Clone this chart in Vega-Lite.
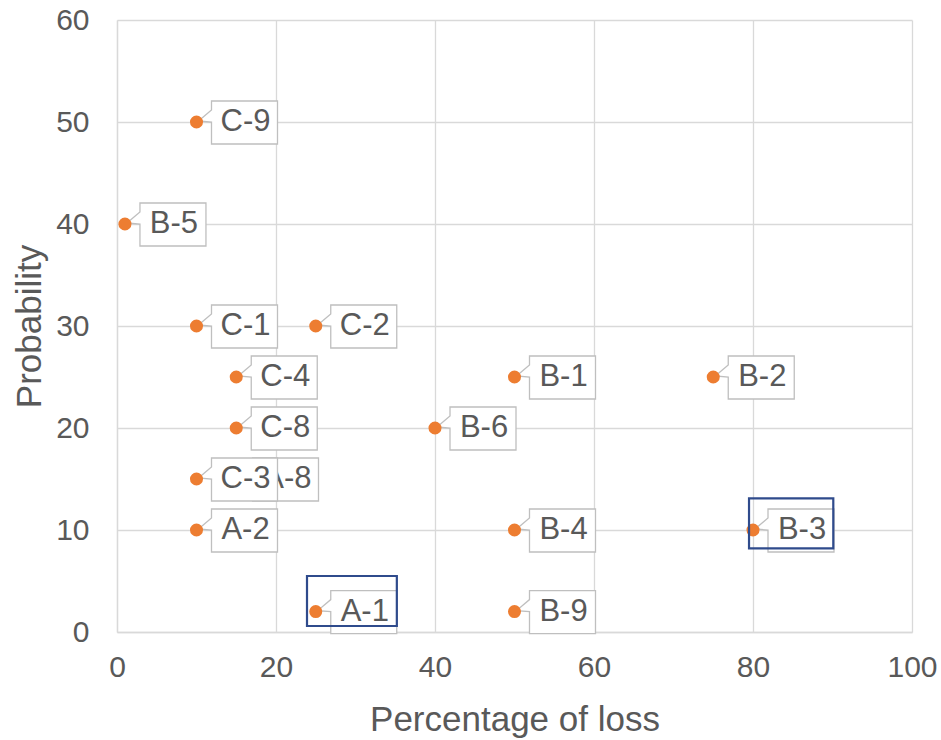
{
  "$schema": "https://vega.github.io/schema/vega-lite/v6.json",
  "width": 795,
  "height": 612,
  "autosize": {"type": "none"},
  "padding": {"left": 117, "top": 20, "right": 29, "bottom": 108},
  "background": "white",
  "config": {
    "font": "Liberation Sans",
    "view": {"stroke": null},
    "axis": {
      "gridColor": "#d9d9d9",
      "gridWidth": 1.3,
      "domainColor": "#d9d9d9",
      "domainWidth": 1.3,
      "ticks": false,
      "labelColor": "#595959",
      "labelFontSize": 30,
      "labelFlush": false,
      "labelOverlap": false,
      "titleColor": "#595959",
      "titleFontSize": 35,
      "titleFontWeight": "normal",
      "labelFont": "Liberation Sans",
      "titleFont": "Liberation Sans"
    }
  },
  "datasets": {
    "points": [
      {"name": "C-9", "loss": 10, "prob": 50},
      {"name": "B-5", "loss": 1, "prob": 40},
      {"name": "C-1", "loss": 10, "prob": 30},
      {"name": "C-2", "loss": 25, "prob": 30},
      {"name": "C-4", "loss": 15, "prob": 25},
      {"name": "B-1", "loss": 50, "prob": 25},
      {"name": "B-2", "loss": 75, "prob": 25},
      {"name": "C-8", "loss": 15, "prob": 20},
      {"name": "B-6", "loss": 40, "prob": 20},
      {"name": "C-3", "loss": 10, "prob": 15},
      {"name": "A-2", "loss": 10, "prob": 10},
      {"name": "B-4", "loss": 50, "prob": 10},
      {"name": "B-3", "loss": 80, "prob": 10},
      {"name": "A-1", "loss": 25, "prob": 2},
      {"name": "B-9", "loss": 50, "prob": 2}
    ],
    "hidden": [
      {"name": "A-8", "loss": 10, "prob": 15}
    ],
    "highlights": [
      {"x1": 23.9, "x2": 35.2, "y1": 0.59, "y2": 5.49},
      {"x1": 79.5, "x2": 90.1, "y1": 8.2, "y2": 13.1}
    ]
  },
  "layer": [
    {
      "data": {"name": "points"},
      "mark": {"type": "point", "opacity": 0, "size": 1},
      "encoding": {
        "x": {"field": "loss", "type": "quantitative",
              "scale": {"domain": [0, 100], "nice": false},
              "axis": {"values": [0, 20, 40, 60, 80, 100], "title": "Percentage of loss", "labelPadding": 20, "titlePadding": 20, "grid": true}},
        "y": {"field": "prob", "type": "quantitative",
              "scale": {"domain": [0, 60], "nice": false},
              "axis": {"values": [0, 10, 20, 30, 40, 50, 60], "title": "Probability", "labelPadding": 28, "titlePadding": 8, "grid": true}}
      }
    },
    {
      "data": {"name": "hidden"},
      "mark": {"type": "point", "shape": "M56,-21 L122,-21 L122,22 L56,22 Z", "size": 4, "filled": true, "fill": "white", "stroke": "#bfbfbf", "strokeWidth": 1.3, "opacity": 1, "fillOpacity": 1, "strokeOpacity": 1},
      "encoding": {
        "x": {"field": "loss", "type": "quantitative"},
        "y": {"field": "prob", "type": "quantitative"}
      }
    },
    {
      "data": {"name": "hidden"},
      "mark": {"type": "text", "dx": 115, "align": "right", "baseline": "middle", "fontSize": 31, "color": "#595959", "font": "Liberation Sans"},
      "encoding": {
        "x": {"field": "loss", "type": "quantitative"},
        "y": {"field": "prob", "type": "quantitative"},
        "text": {"field": "name"}
      }
    },
    {
      "data": {"name": "points"},
      "mark": {"type": "point", "shape": "M15,-21 L81,-21 L81,22 L15,22 L15,0 L2,-1 L15,-12 Z", "size": 4, "filled": true, "fill": "white", "stroke": "#bfbfbf", "strokeWidth": 1.3, "opacity": 1, "fillOpacity": 1, "strokeOpacity": 1},
      "encoding": {
        "x": {"field": "loss", "type": "quantitative"},
        "y": {"field": "prob", "type": "quantitative"}
      }
    },
    {
      "data": {"name": "points"},
      "mark": {"type": "text", "dx": 49, "align": "center", "baseline": "middle", "fontSize": 31, "color": "#595959", "font": "Liberation Sans"},
      "encoding": {
        "x": {"field": "loss", "type": "quantitative"},
        "y": {"field": "prob", "type": "quantitative"},
        "text": {"field": "name"}
      }
    },
    {
      "data": {"name": "points"},
      "mark": {"type": "point", "shape": "circle", "filled": true, "color": "#ED7D31", "size": 170, "opacity": 1},
      "encoding": {
        "x": {"field": "loss", "type": "quantitative"},
        "y": {"field": "prob", "type": "quantitative"}
      }
    },
    {
      "data": {"name": "highlights"},
      "mark": {"type": "rect", "fill": null, "fillOpacity": 0, "stroke": "#2F4B8C", "strokeWidth": 2.2},
      "encoding": {
        "x": {"field": "x1", "type": "quantitative"},
        "x2": {"field": "x2"},
        "y": {"field": "y1", "type": "quantitative"},
        "y2": {"field": "y2"}
      }
    }
  ]
}
